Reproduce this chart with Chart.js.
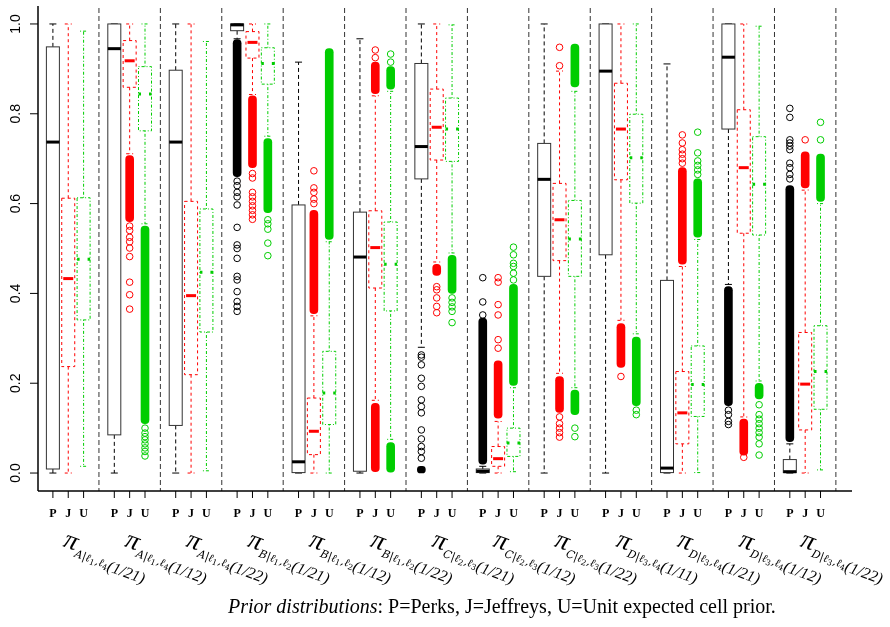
<!DOCTYPE html>
<html>
<head>
<meta charset="utf-8">
<script src="https://cdn.jsdelivr.net/npm/chart.js@4.4.1/dist/chart.umd.min.js"></script>
<style>
  html, body { margin: 0; padding: 0; background: #fff; }
  #wrap { width: 890px; height: 627px; }
</style>
</head>
<body>
<div id="wrap"><canvas id="chart" width="890" height="627"></canvas></div>
<script>
// ---- data ----
const groupVar   = ['A', 'A', 'A', 'B', 'B', 'B', 'C', 'C', 'C', 'D', 'D', 'D', 'D'];
const groupCond  = [['1','4'], ['1','4'], ['1','4'], ['1','2'], ['1','2'], ['1','2'],
                    ['2','3'], ['2','3'], ['2','3'], ['3','4'], ['3','4'], ['3','4'], ['3','4']];
const groupAlpha = ['1/21', '1/12', '1/22', '1/21', '1/12', '1/22', '1/21', '1/12', '1/22',
                    '1/11', '1/21', '1/12', '1/22'];
const priorCodes = ['P', 'J', 'U'];
const yTicks = [0, 0.2, 0.4, 0.6, 0.8, 1.0];
const yTickLabels = ['0.0', '0.2', '0.4', '0.6', '0.8', '1.0'];

// [lower whisker, q1, median, q3, upper whisker] per group
const statsP = [
  [0.000, 0.009, 0.737, 0.949, 1.000],
  [0.000, 0.085, 0.945, 1.000, 1.000],
  [0.000, 0.106, 0.737, 0.897, 1.000],
  [0.967, 0.985, 0.998, 1.000, 1.000],
  [0.000, 0.001, 0.025, 0.597, 0.915],
  [0.000, 0.004, 0.481, 0.581, 0.967],
  [0.280, 0.655, 0.727, 0.912, 1.000],
  [0.000, 0.001, 0.004, 0.009, 0.015],
  [0.000, 0.438, 0.654, 0.734, 1.000],
  [0.000, 0.486, 0.895, 1.000, 1.000],
  [0.000, 0.001, 0.011, 0.429, 0.911],
  [0.420, 0.766, 0.926, 1.000, 1.000],
  [0.000, 0.001, 0.003, 0.030, 0.065]
];
const statsJ = [
  [0.000, 0.237, 0.433, 0.612, 1.000],
  [0.711, 0.859, 0.918, 0.963, 1.000],
  [0.000, 0.219, 0.395, 0.605, 1.000],
  [0.843, 0.924, 0.959, 0.983, 1.000],
  [0.000, 0.041, 0.093, 0.167, 0.350],
  [0.162, 0.412, 0.502, 0.584, 0.840],
  [0.470, 0.697, 0.770, 0.855, 1.000],
  [0.000, 0.015, 0.032, 0.059, 0.115],
  [0.222, 0.473, 0.564, 0.645, 0.895],
  [0.340, 0.653, 0.766, 0.868, 1.000],
  [0.000, 0.065, 0.134, 0.226, 0.460],
  [0.125, 0.534, 0.680, 0.809, 1.000],
  [0.000, 0.096, 0.198, 0.313, 0.630]
];
const statsU = [
  [0.015, 0.341, 0.476, 0.613, 0.984],
  [0.555, 0.762, 0.844, 0.905, 1.000],
  [0.005, 0.314, 0.447, 0.588, 0.961],
  [0.750, 0.866, 0.912, 0.947, 1.000],
  [0.000, 0.108, 0.178, 0.271, 0.515],
  [0.075, 0.361, 0.465, 0.559, 0.850],
  [0.490, 0.694, 0.766, 0.835, 0.998],
  [0.003, 0.037, 0.067, 0.100, 0.190],
  [0.190, 0.438, 0.521, 0.607, 0.850],
  [0.310, 0.601, 0.702, 0.799, 1.000],
  [0.001, 0.126, 0.197, 0.283, 0.520],
  [0.205, 0.530, 0.643, 0.749, 0.995],
  [0.007, 0.142, 0.226, 0.328, 0.600]
];

// runs of outliers so dense they print as a solid column: [group, from, to]
const denseP = [[3, 0.66, 0.965], [6, 0.0, 0.015], [7, 0.02, 0.345], [11, 0.15, 0.415], [12, 0.07, 0.64]];
const denseJ = [[1, 0.56, 0.707], [3, 0.68, 0.84], [4, 0.355, 0.585], [5, 0.845, 0.915], [5, 0.003, 0.155],
                [6, 0.44, 0.465], [7, 0.122, 0.25], [8, 0.135, 0.215], [9, 0.235, 0.333],
                [10, 0.465, 0.68], [11, 0.04, 0.12], [12, 0.635, 0.715]];
const denseU = [[1, 0.11, 0.55], [3, 0.58, 0.745], [4, 0.52, 0.945], [5, 0.855, 0.905], [5, 0.002, 0.068],
                [6, 0.40, 0.485], [7, 0.195, 0.42], [8, 0.86, 0.955], [8, 0.13, 0.185], [9, 0.15, 0.303],
                [10, 0.525, 0.655], [11, 0.165, 0.2], [12, 0.605, 0.71]];

// single outliers: [group, value, value, ...]
const sparseP = [
  [3, 0.65, 0.64, 0.625, 0.615, 0.597, 0.547, 0.508, 0.5, 0.478, 0.438, 0.43, 0.404, 0.382, 0.371, 0.36],
  [6, 0.263, 0.258, 0.241, 0.211, 0.193, 0.163, 0.148, 0.134, 0.096, 0.076, 0.059, 0.048, 0.033],
  [7, 0.435, 0.381, 0.352],
  [11, 0.14, 0.13, 0.115, 0.108],
  [12, 0.812, 0.792, 0.742, 0.735, 0.728, 0.72, 0.69, 0.68, 0.665, 0.655]
];
const sparseJ = [
  [1, 0.55, 0.54, 0.525, 0.515, 0.501, 0.482, 0.425, 0.397, 0.365],
  [3, 0.667, 0.657, 0.625, 0.615, 0.605, 0.595, 0.585, 0.575, 0.565],
  [4, 0.6, 0.61, 0.625, 0.635, 0.673],
  [5, 0.925, 0.942],
  [6, 0.415, 0.408, 0.39, 0.371, 0.357],
  [7, 0.278, 0.297, 0.352, 0.375, 0.425, 0.435],
  [8, 0.948, 0.907, 0.125, 0.11, 0.1, 0.09, 0.08],
  [9, 0.215],
  [10, 0.69, 0.7, 0.71, 0.72, 0.735, 0.753],
  [11, 0.035],
  [12, 0.742]
];
const sparseU = [
  [1, 0.1, 0.089, 0.081, 0.074, 0.065, 0.056, 0.048, 0.038],
  [3, 0.564, 0.555, 0.543, 0.512, 0.484],
  [5, 0.915, 0.933],
  [6, 0.39, 0.38, 0.37, 0.36, 0.335],
  [7, 0.43, 0.445, 0.46, 0.467, 0.486, 0.503],
  [8, 0.1, 0.081],
  [9, 0.14, 0.13],
  [10, 0.665, 0.675, 0.685, 0.695, 0.713, 0.759],
  [11, 0.152, 0.13, 0.12, 0.11, 0.1, 0.09, 0.08, 0.065, 0.04],
  [12, 0.742, 0.781]
];

// ---- styling ----
const colors = ['#000000', '#ff0000', '#00cd00'];
const priorStyle = [
  { color: '#000', box: '#333', fill: '#fff', boxDash: [], whiskDash: [4, 3], stapleDash: [], medDash: [], medInset: 0 },
  { color: '#f00', box: '#f00', fill: null, boxDash: [3, 3], whiskDash: [3, 3], stapleDash: [3, 3], medDash: [], medInset: 1.5 },
  { color: '#00cd00', box: '#00cd00', fill: null, boxDash: [1, 2, 3, 2], whiskDash: [1, 2, 3, 2], stapleDash: [1, 2, 3, 2], medDash: [2.5, 8, 10, 8], medInset: 0 }
];
const serif = '"Liberation Serif", "DejaVu Serif", serif';

const pos = (g, k) => 4 * g + 1 + k;

function line(ctx, x1, y1, x2, y2) {
  ctx.beginPath(); ctx.moveTo(x1, y1); ctx.lineTo(x2, y2); ctx.stroke();
}

function drawBox(ctx, cx, px, st) {
  const [lo, q1, med, q3, hi] = px;
  const hw = 6.5, sw = 3.5;
  ctx.strokeStyle = st.color;
  ctx.lineWidth = 1;
  ctx.setLineDash(st.whiskDash);
  if (hi < q3) line(ctx, cx, q3, cx, hi);
  if (lo > q1) line(ctx, cx, q1, cx, lo);
  ctx.setLineDash(st.stapleDash);
  line(ctx, cx - sw, hi, cx + sw, hi);
  line(ctx, cx - sw, lo, cx + sw, lo);
  if (st.fill) { ctx.fillStyle = st.fill; ctx.fillRect(cx - hw, q3, 2 * hw, q1 - q3); }
  ctx.strokeStyle = st.box;
  ctx.setLineDash(st.boxDash);
  ctx.strokeRect(cx - hw, q3, 2 * hw, q1 - q3);
  ctx.strokeStyle = st.color;
  ctx.lineWidth = 3;
  ctx.setLineDash(st.medDash);
  line(ctx, cx - hw + st.medInset, med, cx + hw - st.medInset, med);
}

function drawRuns(ctx, runs, x0, y0, angle) {
  ctx.save();
  ctx.translate(x0, y0);
  ctx.rotate(angle);
  let u = 0;
  runs.forEach(r => {
    ctx.font = r.font;
    ctx.fillText(r.text, u, r.dy);
    u += ctx.measureText(r.text).width + (r.gap || 0);
  });
  ctx.restore();
}

const boxPlugin = {
  id: 'boxes',
  beforeDatasetsDraw(chart) {
    const { ctx, chartArea: a, scales: { x, y } } = chart;
    ctx.save();
    // group separators
    ctx.strokeStyle = '#333';
    ctx.lineWidth = 1;
    ctx.setLineDash([5, 3]);
    for (let g = 1; g <= groupVar.length; g++) {
      const px = x.getPixelForValue(4 * g);
      line(ctx, px, a.top + 2, px, a.bottom);
    }
    [statsP, statsJ, statsU].forEach((stats, k) => {
      stats.forEach((s, g) => {
        drawBox(ctx, x.getPixelForValue(pos(g, k)), s.map(v => y.getPixelForValue(v)), priorStyle[k]);
      });
    });
    ctx.restore();
  },
  afterDraw(chart) {
    const { ctx, chartArea: a, scales: { x, y } } = chart;
    ctx.save();
    ctx.setLineDash([]);
    ctx.strokeStyle = '#000';
    ctx.fillStyle = '#000';
    ctx.lineWidth = 1.5;
    line(ctx, a.left, a.top, a.left, a.bottom);
    line(ctx, a.left, a.bottom, a.right, a.bottom);

    // y axis ticks + rotated labels
    ctx.lineWidth = 1;
    ctx.font = '14px "Liberation Sans", Arial, sans-serif';
    ctx.textAlign = 'center';
    ctx.textBaseline = 'middle';
    yTicks.forEach((v, i) => {
      const py = y.getPixelForValue(v);
      line(ctx, a.left - 8, py, a.left, py);
      ctx.save();
      ctx.translate(16, py);
      ctx.rotate(-Math.PI / 2);
      ctx.fillText(yTickLabels[i], 0, 0);
      ctx.restore();
    });

    // x ticks with prior letters
    ctx.font = 'bold 12px ' + serif;
    ctx.textBaseline = 'alphabetic';
    groupVar.forEach((_, g) => {
      priorCodes.forEach((code, k) => {
        const px = x.getPixelForValue(pos(g, k));
        line(ctx, px, a.bottom, px, a.bottom + 7);
        ctx.fillText(code, px, a.bottom + 26);
      });
    });

    // parameter labels
    ctx.textAlign = 'left';
    groupVar.forEach((v, g) => {
      const px = x.getPixelForValue(pos(g, 1)) - 6;
      const runs = [
        { text: '\u03c0', font: 'italic 27px ' + serif, dy: 0, gap: 1 },
        { text: v + '|\u2113', font: 'italic 11px "DejaVu Serif", serif', dy: 6 },
        { text: groupCond[g][0], font: '8px "DejaVu Serif", serif', dy: 8, gap: 0.5 },
        { text: ',\u2113', font: 'italic 11px "DejaVu Serif", serif', dy: 6 },
        { text: groupCond[g][1], font: '8px "DejaVu Serif", serif', dy: 8 },
        { text: '(' + groupAlpha[g] + ')', font: 'italic 16px ' + serif, dy: 8 }
      ];
      drawRuns(ctx, runs, px, 546, 20 * Math.PI / 180);
    });

    // caption
    const cap1 = 'Prior distributions';
    const cap2 = ': P=Perks, J=Jeffreys, U=Unit expected cell prior.';
    ctx.font = 'italic 20px ' + serif;
    const w1 = ctx.measureText(cap1).width;
    ctx.fillText(cap1, 228, 613);
    ctx.font = '20px ' + serif;
    ctx.fillText(cap2, 228 + w1, 613);
    ctx.restore();
  }
};

const datasets = [];
[denseP, denseJ, denseU].forEach((runs, k) => {
  datasets.push({
    type: 'bar',
    label: priorCodes[k] + ' dense outliers',
    data: runs.map(r => ({ x: pos(r[0], k), y: [r[1], r[2]] })),
    backgroundColor: colors[k],
    barThickness: 8,
    borderRadius: 4,
    borderSkipped: false,
    grouped: false,
    order: 2
  });
});
[sparseP, sparseJ, sparseU].forEach((rows, k) => {
  datasets.push({
    type: 'scatter',
    label: priorCodes[k] + ' outliers',
    data: rows.flatMap(r => r.slice(1).map(v => ({ x: pos(r[0], k), y: v }))),
    pointRadius: 3.3,
    pointStyle: 'circle',
    borderColor: colors[k],
    backgroundColor: 'rgba(0,0,0,0)',
    borderWidth: 1,
    order: 1
  });
});

new Chart(document.getElementById('chart').getContext('2d'), {
  type: 'bar',
  data: { datasets: datasets },
  options: {
    responsive: false,
    animation: false,
    devicePixelRatio: 1,
    layout: { padding: { left: 38, top: 6, right: 38, bottom: 136 } },
    plugins: { legend: { display: false }, tooltip: { enabled: false } },
    scales: {
      x: { type: 'linear', min: 0.03, max: 53.05, display: false, offset: false },
      y: { type: 'linear', min: -0.04, max: 1.04, display: false }
    }
  },
  plugins: [boxPlugin]
});
</script>
</body>
</html>
